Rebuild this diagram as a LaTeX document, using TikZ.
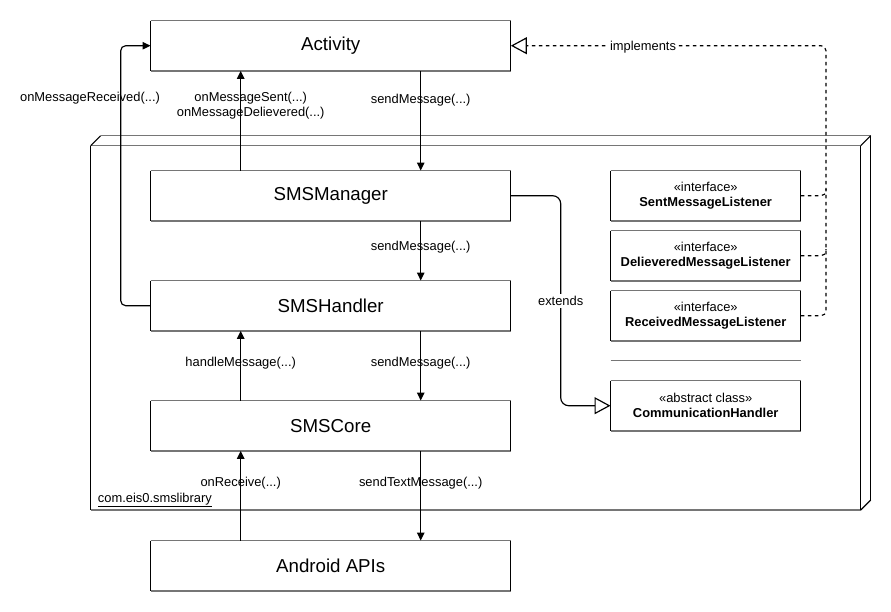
\documentclass[tikz,border=0pt]{standalone}
\usepackage{fontspec}
\setmainfont{Liberation Sans}
\usetikzlibrary{arrows.meta}
\definecolor{edgegray}{RGB}{118,118,118}
\begin{document}
\begin{tikzpicture}[x=1pt,y=-1pt,
  cls/.style={rectangle,fill=white,minimum width=360pt,minimum height=50pt,inner sep=0pt,font=\fontsize{18.7}{22}\selectfont},
  ifc/.style={rectangle,fill=white,minimum width=190pt,minimum height=50pt,inner sep=0pt,align=center,font=\fontsize{12.9}{15}\selectfont},
  lbl/.style={font=\fontsize{12.9}{15}\selectfont,inner sep=0pt,align=center},
  bglbl/.style={lbl,fill=white,inner sep=2.5pt},
  arr/.style={line width=1.17pt,-{Triangle[length=8pt,width=7.5pt]}},
  inh/.style={line width=1.17pt,rounded corners=8pt,-{Triangle[length=16pt,width=17pt,fill=white,line width=1.17pt]}},
  dsh/.style={line width=1.17pt,dash pattern=on 3.5pt off 3.5pt,rounded corners=5pt},
  grayedge/.style={draw=edgegray,line width=1.3pt},
  blackedge/.style={draw=black,line width=1.17pt}
]
\useasboundingbox (0,0) rectangle (891,611);
% package (3D box)
\draw[grayedge] (90.7,145.7) -- (860.7,145.7) (90.7,510) -- (860.7,510) (100.7,135.7) -- (870.7,135.7);
\draw[blackedge] (90.7,145.7) -- (90.7,510) (860.7,145.7) -- (860.7,510) (870.7,135.7) -- (870.7,500);
\draw[blackedge] (90.7,145.7) -- (100.7,135.7) (860.7,145.7) -- (870.7,135.7) (860.7,510) -- (870.7,500);
\node[lbl,anchor=west] (pkg) at (97.7,500) {\underline{com.eis0.smslibrary}};

% class boxes
\node[cls] (act) at (330.7,45.7) {Activity};
\node[cls] (mgr) at (330.7,195.7) {SMSManager};
\node[cls] (hdl) at (330.7,305.7) {SMSHandler};
\node[cls] (core) at (330.7,425.7) {SMSCore};
\node[cls] (api) at (330.7,565.7) {Android APIs};
\node[ifc] (i1) at (705.7,195.7) {«interface»\\\textbf{SentMessageListener}};
\node[ifc] (i2) at (705.7,255.7) {«interface»\\\textbf{DelieveredMessageListener}};
\node[ifc] (i3) at (705.7,315.7) {«interface»\\\textbf{ReceivedMessageListener}};
\node[ifc] (comm) at (705.7,405.7) {«abstract class»\\\textbf{CommunicationHandler}};
\foreach \n in {act,mgr,hdl,core,api,i1,i2,i3,comm}{
  \draw[grayedge] (\n.north west) -- (\n.north east) (\n.south west) -- (\n.south east);
  \draw[blackedge] (\n.north west) -- (\n.south west) (\n.north east) -- (\n.south east);
}
% separator
\coordinate (sepl) at (610.7,360.7);
\coordinate (sepr) at (800.7,360.7);
\draw[grayedge] (sepl) -- (sepr);

\coordinate (xr) at (420.7,0);
\coordinate (xl) at (240.7,0);

% arrows
\draw[arr] (act.south -| xr) -- (mgr.north -| xr);
\node[lbl] (l1) at (420.7,100) {sendMessage(...)};
\draw[arr] (mgr.north -| xl) -- (act.south -| xl);
\node[lbl] (l2) at (250.7,106) {onMessageSent(...)\\onMessageDelievered(...)};
\draw[arr,rounded corners=5pt] (hdl.west) -- (120.7,305.7) -- (120.7,45.7) -- (act.west);
\node[lbl] (l3) at (90,98) {onMessageReceived(...)};
\draw[arr] (mgr.south -| xr) -- (hdl.north -| xr);
\node[lbl] (l4) at (420.7,247) {sendMessage(...)};
\draw[arr] (core.north -| xl) -- (hdl.south -| xl);
\node[lbl] (l5) at (240.7,363) {handleMessage(...)};
\draw[arr] (hdl.south -| xr) -- (core.north -| xr);
\node[lbl] (l6) at (420.7,363) {sendMessage(...)};
\draw[arr] (api.north -| xl) -- (core.south -| xl);
\node[lbl] (l7) at (240.7,483) {onReceive(...)};
\draw[arr] (core.south -| xr) -- (api.north -| xr);
\node[lbl] (l8) at (420.7,483) {sendTextMessage(...)};

% extends
\draw[inh] (mgr.east) -- (560.7,195.7) -- (560.7,405.7) -- (comm.west);
\node[bglbl] (l9) at (560.7,301) {extends};

% implements
\draw[dsh,-{Triangle[length=16pt,width=17pt,fill=white,line width=1.17pt]}] (i3.east) -- (826,315.7) -- (826,45.7) -- (act.east);
\draw[dsh] (i1.east) -- (826,195.7) -- (826,189);
\draw[dsh] (i2.east) -- (826,255.7) -- (826,249);
\node[bglbl] (l10) at (643,46.7) {implements};
\end{tikzpicture}
\end{document}
